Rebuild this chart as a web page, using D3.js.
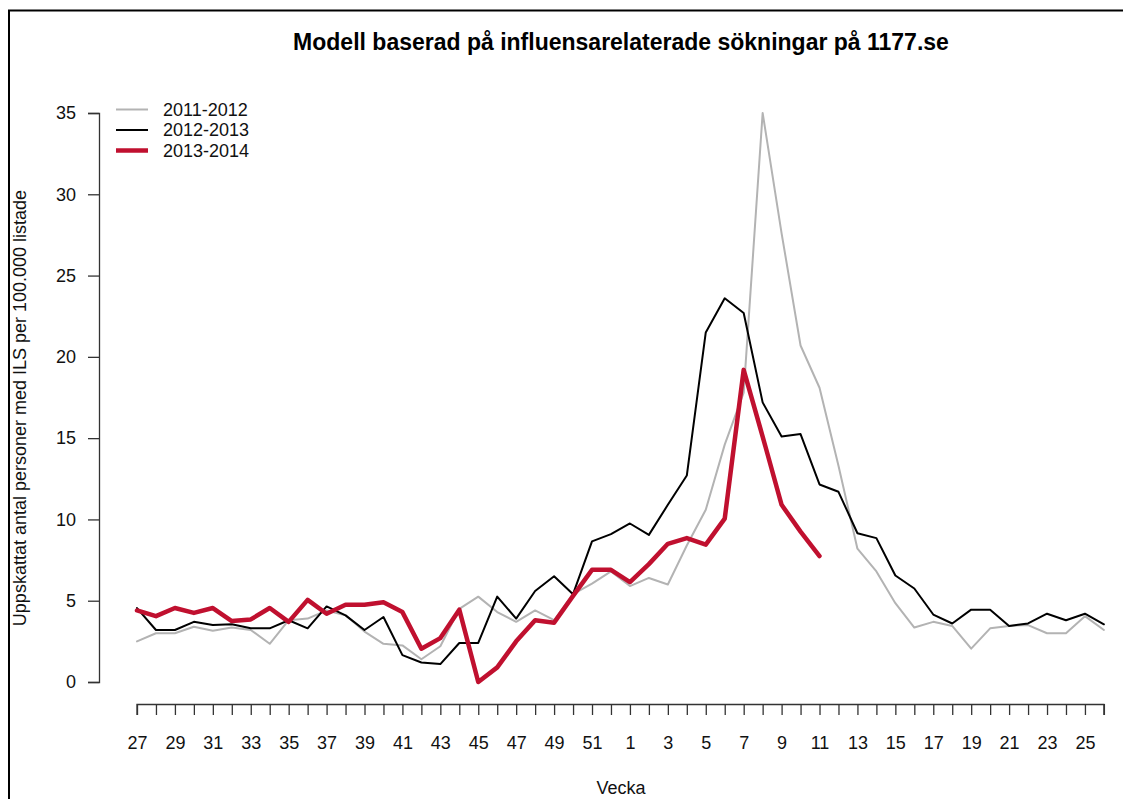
<!DOCTYPE html>
<html><head><meta charset="utf-8">
<script src="https://cdn.jsdelivr.net/npm/d3@7"></script>
<style>body{margin:0;background:#fff;} text{font-family:"Liberation Sans",Arial,sans-serif;}</style>
</head><body>
<svg id="c" width="1123" height="799"></svg>
<script>
const weeks = [27,28,29,30,31,32,33,34,35,36,37,38,39,40,41,42,43,44,45,46,47,48,49,50,51,52,1,2,3,4,5,6,7,8,9,10,11,12,13,14,15,16,17,18,19,20,21,22,23,24,25,26];
const tickLabels = [27,29,31,33,35,37,39,41,43,45,47,49,51,1,3,5,7,9,11,13,15,17,19,21,23,25];
const yTicks = [0,5,10,15,20,25,30,35];
const s2011 = [2.5,3.0,3.0,3.4,3.15,3.35,3.2,2.35,3.8,3.9,4.4,4.1,3.1,2.35,2.25,1.4,2.2,4.5,5.25,4.3,3.7,4.4,3.8,5.4,6.05,6.8,5.9,6.4,6.0,8.4,10.6,14.6,17.8,35.0,27.6,20.7,18.1,13.3,8.2,6.8,4.85,3.35,3.7,3.45,2.05,3.3,3.45,3.5,3.0,3.0,4.05,3.2];
const s2012 = [4.55,3.2,3.2,3.7,3.5,3.55,3.3,3.3,3.8,3.3,4.65,4.1,3.2,4.0,1.65,1.2,1.1,2.4,2.4,5.25,3.9,5.6,6.5,5.4,8.65,9.1,9.75,9.05,10.9,12.7,21.5,23.6,22.7,17.2,15.1,15.25,12.15,11.7,9.15,8.85,6.55,5.75,4.15,3.6,4.45,4.45,3.45,3.6,4.2,3.8,4.2,3.55];
const s2013 = [4.4,4.05,4.55,4.25,4.55,3.75,3.85,4.55,3.7,5.05,4.2,4.75,4.75,4.9,4.3,2.05,2.7,4.45,0.0,0.9,2.5,3.8,3.65,5.3,6.9,6.9,6.15,7.25,8.5,8.85,8.45,10.05,19.2,15.1,10.9,9.25,7.75];
const seriesNames = ["2011-2012","2012-2013","2013-2014"];
const seriesColors = ["#b3b3b3","#000000","#c0102f"];
const seriesWidths = [2,2,4.5];

const svg = d3.select("#c");
// outer frame (right and bottom edges fall outside the picture)
svg.append("rect").attr("x",9).attr("y",10.5).attr("width",1200).attr("height",900)
  .attr("fill","none").attr("stroke","#000").attr("stroke-width",2);

const x = d3.scaleLinear().domain([0, weeks.length-1]).range([137, 1103.9]);
const y = d3.scaleLinear().domain([0,35]).range([682,113]);

const FS = 18;
// y axis
const yAxis = svg.append("g").attr("transform","translate(99,0)")
  .call(d3.axisLeft(y).tickValues(yTicks).tickSize(11).tickPadding(12).tickFormat(d3.format("d")));
yAxis.select(".domain").attr("stroke","#333").attr("stroke-width",1.3).attr("d","M-11,682.5H0.5V113.5H-11");
yAxis.selectAll(".tick line").attr("stroke","#333").attr("stroke-width",1.3);
yAxis.selectAll("text").attr("font-size",FS).attr("fill","#111").attr("font-family","Liberation Sans, Arial, sans-serif");

// x axis
const xAxis = svg.append("g").attr("transform","translate(0,704)")
  .call(d3.axisBottom(x).tickValues(d3.range(weeks.length)).tickSize(11).tickPadding(21).tickFormat(i => tickLabels.includes(weeks[i]) ? weeks[i] : ""));
xAxis.select(".domain").attr("stroke","#333").attr("stroke-width",1.3).attr("d",`M${x(0)},11V0.5H${x(weeks.length-1)}V11`);
xAxis.selectAll(".tick line").attr("stroke","#333").attr("stroke-width",1.3);
xAxis.selectAll("text").attr("font-size",FS).attr("fill","#111").attr("font-family","Liberation Sans, Arial, sans-serif");

// lines
const line = d3.line().x((d,i)=>x(i)).y(d=>y(d)).curve(d3.curveLinear);
[s2011,s2012,s2013].forEach((s,k)=>{
  svg.append("path").datum(s).attr("d",line).attr("fill","none")
    .attr("stroke",seriesColors[k]).attr("stroke-width",seriesWidths[k])
    .attr("stroke-linejoin","round").attr("stroke-linecap","round");
});

// title
svg.append("text").attr("x",621).attr("y",50).attr("text-anchor","middle")
  .attr("font-size",23).attr("font-weight","bold").attr("fill","#000")
  .text("Modell baserad på influensarelaterade sökningar på 1177.se");

// axis titles
svg.append("text").attr("x",621).attr("y",794).attr("text-anchor","middle")
  .attr("font-size",FS).attr("fill","#111").text("Vecka");
svg.append("text").attr("transform","translate(26,408) rotate(-90)").attr("text-anchor","middle")
  .attr("font-size",FS).attr("fill","#111").text("Uppskattat antal personer med ILS per 100.000 listade");

// legend
const lg = svg.append("g");
seriesNames.forEach((n,k)=>{
  const yy = 109.5 + k*20.5;
  lg.append("line").attr("x1",116).attr("x2",148).attr("y1",yy).attr("y2",yy)
    .attr("stroke",seriesColors[k]).attr("stroke-width",seriesWidths[k]);
  lg.append("text").attr("x",163).attr("y",yy+6).attr("font-size",FS).attr("fill","#111").text(n);
});
</script>
</body></html>
